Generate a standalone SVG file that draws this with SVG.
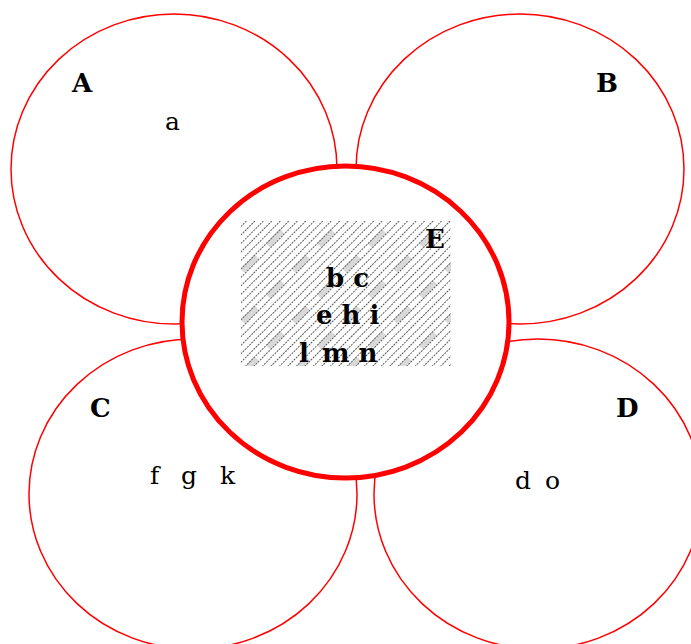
<svg xmlns="http://www.w3.org/2000/svg" width="691" height="644" viewBox="0 0 691 644">
<style>
.c{fill:none;stroke:#ff0000;stroke-width:1.5}
.ce{fill:none;stroke:#ff0000;stroke-width:5}
.lb{font-family:"DejaVu Serif","Liberation Serif",serif;font-weight:bold;font-size:26px;fill:#000}
.t{font-family:"DejaVu Serif","Liberation Serif",serif;font-size:25px;fill:#000}
.tb{font-family:"DejaVu Serif","Liberation Serif",serif;font-weight:bold;font-size:26px;fill:#000}
</style>
<defs>
<pattern id="hatch" width="6" height="6" patternUnits="userSpaceOnUse" patternTransform="rotate(45)">
<line x1="0" y1="0" x2="0" y2="6" stroke="#5a5a5a" stroke-width="2" stroke-dasharray="2 1"/>
</pattern>
<pattern id="soft" width="36" height="36" patternUnits="userSpaceOnUse" patternTransform="rotate(45)">
<rect x="0" y="0" width="6" height="20" fill="#c0c0c0" opacity="0.6"/>
</pattern>
</defs>
<g id="A"><ellipse class="c" cx="174" cy="169" rx="163" ry="155"/><text class="lb" x="72" y="92">A</text><text class="t" x="165" y="130">a</text></g>
<g id="B"><ellipse class="c" cx="520" cy="169" rx="164" ry="155"/><text class="lb" x="596" y="92">B</text></g>
<g id="C"><ellipse class="c" cx="193" cy="494" rx="164" ry="155"/><text class="lb" x="90" y="417">C</text>
<text class="t" x="150" y="484">f</text><text class="t" x="181" y="484">g</text><text class="t" x="220" y="484">k</text></g>
<g id="D"><ellipse class="c" cx="538" cy="494" rx="164" ry="155"/><text class="lb" x="616" y="417">D</text>
<text class="t" x="515" y="489">d</text><text class="t" x="545" y="489">o</text></g>
<g id="E">
<ellipse cx="345.5" cy="322" rx="163.5" ry="156" fill="#fff" stroke="none"/>
<rect x="241" y="221" width="210" height="145" fill="url(#soft)"/>
<rect x="241" y="221" width="210" height="145" fill="url(#hatch)"/>
<ellipse class="ce" cx="345.5" cy="322" rx="163.5" ry="156"/>
<text class="lb" x="425" y="248">E</text>
<text class="tb" x="326" y="287">b c</text>
<text class="tb" x="316" y="324">e h i</text>
<text class="tb" x="299" y="362">l</text><text class="tb" x="322" y="362">m n</text>
</g>
<g id="connectors"/>
</svg>
